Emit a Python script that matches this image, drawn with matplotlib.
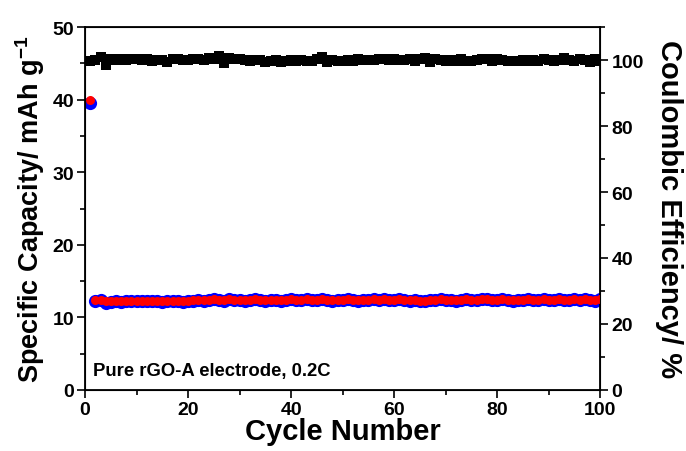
import matplotlib
matplotlib.use("Agg")
import matplotlib.pyplot as plt
from matplotlib.ticker import MultipleLocator

plt.rcParams['font.family'] = ['Liberation Sans', 'DejaVu Sans']
plt.rcParams['font.weight'] = 'bold'
plt.rcParams['mathtext.fontset'] = 'custom'
plt.rcParams['mathtext.rm'] = 'Liberation Sans:bold'
plt.rcParams['mathtext.bf'] = 'Liberation Sans:bold'
plt.rcParams['mathtext.default'] = 'bf'

cycles = list(range(1, 101))
discharge = [39.6, 12.3, 12.4, 12.0, 12.1, 12.2, 12.1, 12.2, 12.3, 12.2,
             12.3, 12.2, 12.3, 12.2, 12.1, 12.2, 12.3, 12.2, 12.1, 12.3,
             12.3, 12.4, 12.3, 12.4, 12.5, 12.4, 12.3, 12.5, 12.4, 12.4,
             12.3, 12.4, 12.5, 12.4, 12.3, 12.4, 12.4, 12.3, 12.4, 12.5,
             12.4, 12.4, 12.5, 12.4, 12.4, 12.5, 12.4, 12.3, 12.4, 12.4,
             12.5, 12.4, 12.3, 12.4, 12.4, 12.5, 12.4, 12.5, 12.4, 12.4,
             12.5, 12.4, 12.3, 12.4, 12.2, 12.3, 12.4, 12.4, 12.5, 12.4,
             12.4, 12.3, 12.4, 12.5, 12.4, 12.4, 12.5, 12.6, 12.4, 12.4,
             12.5, 12.4, 12.3, 12.4, 12.4, 12.5, 12.4, 12.4, 12.5, 12.4,
             12.4, 12.5, 12.4, 12.4, 12.5, 12.4, 12.6, 12.4, 12.3, 12.5]
charge = [40.0, 12.4, 12.4, 12.2, 12.2, 12.3, 12.2, 12.3, 12.3, 12.3,
          12.3, 12.3, 12.3, 12.3, 12.2, 12.3, 12.3, 12.3, 12.2, 12.3,
          12.4, 12.4, 12.4, 12.4, 12.5, 12.4, 12.4, 12.5, 12.4, 12.4,
          12.4, 12.4, 12.5, 12.4, 12.4, 12.4, 12.4, 12.4, 12.4, 12.5,
          12.4, 12.4, 12.5, 12.4, 12.4, 12.5, 12.4, 12.4, 12.4, 12.4,
          12.5, 12.4, 12.4, 12.4, 12.4, 12.5, 12.4, 12.5, 12.4, 12.4,
          12.5, 12.4, 12.4, 12.4, 12.3, 12.3, 12.4, 12.4, 12.5, 12.4,
          12.4, 12.4, 12.4, 12.5, 12.4, 12.4, 12.5, 12.5, 12.4, 12.4,
          12.5, 12.4, 12.4, 12.4, 12.4, 12.5, 12.4, 12.4, 12.5, 12.4,
          12.4, 12.5, 12.4, 12.4, 12.5, 12.4, 12.5, 12.4, 12.4, 12.5]
efficiency = [99.6, 100.0, 101.0, 98.5, 100.2, 100.1, 100.3, 100.0, 100.2, 100.3,
              100.1, 100.2, 99.8, 100.0, 100.1, 99.5, 100.2, 100.3, 100.1, 100.0,
              100.2, 100.4, 100.1, 100.6, 100.3, 101.2, 99.0, 100.5, 100.3, 100.2,
              100.0, 99.8, 100.1, 100.0, 99.5, 99.8, 100.0, 99.5, 99.8, 100.0,
              99.8, 100.0, 99.8, 99.6, 100.3, 101.0, 99.4, 100.0, 99.6, 99.8,
              100.0, 99.8, 100.2, 100.0, 99.9, 100.0, 100.2, 100.4, 100.1, 100.2,
              100.0, 99.9, 100.2, 99.8, 100.3, 100.5, 99.4, 100.2, 100.0, 99.8,
              100.0, 99.8, 100.2, 99.8, 99.6, 100.0, 100.4, 100.2, 99.8, 100.2,
              100.0, 99.8, 99.6, 99.8, 100.0, 99.8, 100.0, 99.8, 100.2, 100.0,
              99.8, 100.0, 100.6, 100.0, 99.8, 100.2, 100.0, 99.4, 100.2, 99.6]

fig = plt.figure(figsize=(6.86, 4.52), dpi=100)
ax = fig.add_axes([0.124, 0.135, 0.751, 0.803])
ax.plot(cycles, discharge, 'o', color='#0000ff', markersize=9.5, markeredgewidth=0, zorder=2)
ax.plot(cycles, charge, 'o', color='#ff0000', markersize=6.5, markeredgewidth=0, zorder=3)
ax.set_xlim(0, 100)
ax.set_ylim(0, 50)
ax.xaxis.set_major_locator(MultipleLocator(20))
ax.xaxis.set_minor_locator(MultipleLocator(10))
ax.yaxis.set_major_locator(MultipleLocator(10))
ax.yaxis.set_minor_locator(MultipleLocator(5))
ax.tick_params(which='major', length=6, width=1.2, labelsize=14, pad=2)
ax.tick_params(which='minor', length=3.5, width=1.2)
for s in ax.spines.values():
    s.set_linewidth(1.3)
ax.set_xlabel('Cycle Number', fontsize=21, fontweight='bold', labelpad=-1)
ax.set_ylabel('Specific Capacity/ mAh g$^{-1}$', fontsize=19.5, fontweight='bold', labelpad=4)
ax.text(0.015, 0.03, 'Pure rGO-A electrode, 0.2C', transform=ax.transAxes,
        fontsize=13.3, fontweight='bold', ha='left', va='bottom')

ax2 = ax.twinx()
ax2.plot(cycles, efficiency, 's', color='black', markersize=7.5, markeredgewidth=0)
ax2.set_ylim(0, 110)
ax2.yaxis.set_major_locator(MultipleLocator(20))
ax2.yaxis.set_minor_locator(MultipleLocator(10))
ax2.tick_params(which='major', length=6, width=1.2, labelsize=14, pad=2)
ax2.tick_params(which='minor', length=3.5, width=1.2)
ax2.set_ylabel('Coulombic Efficiency/ %', fontsize=21, fontweight='bold', rotation=270, labelpad=28)

fig.savefig('out.png', dpi=100)
